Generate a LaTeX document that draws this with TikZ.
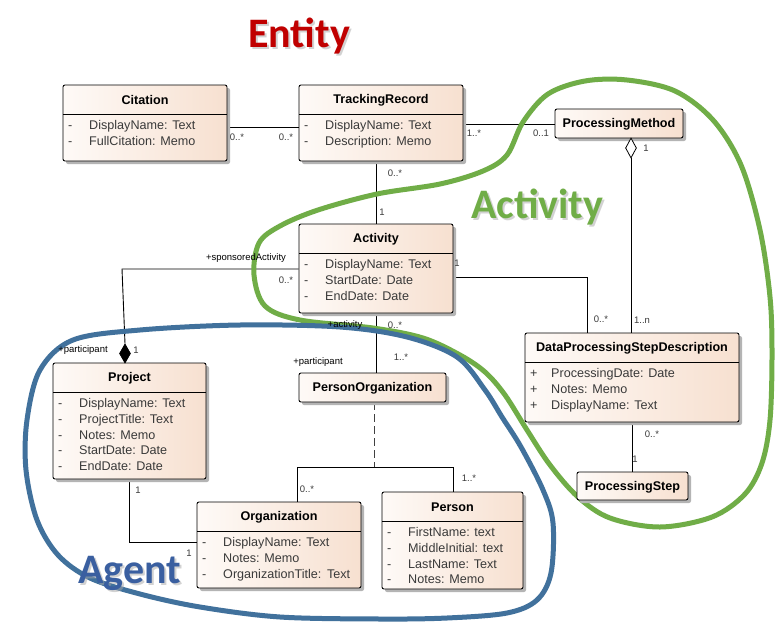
\documentclass[tikz,border=0pt]{standalone}
\usepackage{fontspec}
\setmainfont{Liberation Sans}
\newfontfamily\calib{Carlito}
\usetikzlibrary{shapes.geometric,calc}
\definecolor{peachL}{HTML}{FEFAF7}
\definecolor{peachR}{HTML}{F7E0D0}
\definecolor{shadowc}{HTML}{B4B4B4}
\definecolor{attrc}{HTML}{3A3A3A}
\definecolor{entred}{HTML}{C00000}
\definecolor{actgreen}{HTML}{70AD47}
\definecolor{agblue}{HTML}{41719C}
\definecolor{agtext}{HTML}{3A5FA0}
\pgfdeclarelayer{bglayer}
\pgfdeclarelayer{connlayer}
\pgfdeclarelayer{looplayer}
\pgfsetlayers{bglayer,connlayer,looplayer,main}
\tikzset{
 classbox/.style={draw=black, line width=0.9pt, rounded corners=2pt, left color=peachL, right color=peachR, inner sep=0pt, rectangle},
 titletext/.style={font=\bfseries\fontsize{12.6}{14}\selectfont, inner sep=0pt},
 attrtext/.style={font=\fontsize{12.6}{14}\selectfont, text=attrc, inner sep=0pt, anchor=west, text height=9pt, text depth=2.6pt},
 mult/.style={font=\fontsize{9.5}{11}\selectfont, text=attrc, inner sep=0pt},
 role/.style={font=\fontsize{9.5}{11}\selectfont, text=black, inner sep=0pt},
 conn/.style={draw=black, line width=0.9pt},
 loopg/.style={draw=actgreen, line width=5pt},
 loopb/.style={draw=agblue, line width=5pt},
 bigtext/.style={anchor=base west, inner sep=0pt, font=\calib\bfseries\fontsize{42}{42}\selectfont},
 bigshadow/.style={bigtext, text=black!35, opacity=0.5},
}
\newcommand\umlbox[6]{%
  \pgfmathsetmacro\bw{#4-#2}%
  \pgfmathsetmacro\bh{#5-#3}%
  \pgfmathsetmacro\bx{(#2+#4)/2}%
  \pgfmathsetmacro\by{(#3+#5)/2}%
  \fill[shadowc, rounded corners=2pt] (#2+3,#3+3) rectangle (#4+3,#5+3);
  \node[classbox, minimum width=\bw pt, minimum height=\bh pt] (#1) at (\bx,\by) {};
  \node[titletext] (#1-t) at (\bx,#3+15) {#6};
}
\newcommand\umlattrs[5]{%
  \pgfmathsetmacro\dy{#3+29.5}%
  \draw[line width=0.9pt] (#2,\dy) -- (#4,\dy);
  \foreach \s/\t [count=\i from 0] in {#5} {
    \node[attrtext] (#1-s\i) at (#2+5,{\dy+12+15.7*\i}) {\s};
    \node[attrtext] (#1-a\i) at (#2+26,{\dy+12+15.7*\i}) {\t};
  }
}
\begin{document}
\begin{tikzpicture}[x=1pt,y=-1pt]
\useasboundingbox (0,0) rectangle (784,637);
\begin{pgfonlayer}{bglayer}
\fill[white] (0,0) rectangle (784,637);
\end{pgfonlayer}

% ---------- classes
\umlbox{cit}{63}{85}{227}{161}{Citation}
\umlattrs{cit}{63}{85}{227}{-/DisplayName: Text, -/FullCitation: Memo}
\umlbox{tr}{299}{85}{463}{161}{TrackingRecord}
\umlattrs{tr}{299}{85}{463}{-/DisplayName: Text, -/Description: Memo}
\umlbox{pm}{555}{109}{683}{138}{ProcessingMethod}
\umlbox{act}{299}{224}{453}{313}{Activity}
\umlattrs{act}{299}{224}{453}{-/DisplayName: Text, -/StartDate: Date, -/EndDate: Date}
\umlbox{proj}{53}{363}{206}{479}{Project}
\umlattrs{proj}{53}{363}{206}{-/DisplayName: Text, -/ProjectTitle: Text, -/Notes: Memo, -/StartDate: Date, -/EndDate: Date}
\umlbox{po}{299}{373}{446}{402}{PersonOrganization}
\umlbox{org}{197}{502}{361}{588}{Organization}
\umlattrs{org}{197}{502}{361}{-/DisplayName: Text, -/Notes: Memo, -/OrganizationTitle:\ \,Text}
\umlbox{person}{382}{492}{523}{589}{Person}
\umlattrs{person}{382}{492}{523}{-/FirstName: text, -/MiddleInitial: text, -/LastName: Text, -/Notes: Memo}
\umlbox{dpsd}{525}{333}{739}{422}{DataProcessingStepDescription}
\umlattrs{dpsd}{525}{333}{739}{+/ProcessingDate: Date, +/Notes: Memo, +/DisplayName: Text}
\umlbox{ps}{577}{472}{688}{500}{ProcessingStep}

\node[diamond, draw=black, line width=0.8pt, fill=black, minimum width=11pt, minimum height=19pt, inner sep=0pt] (pdia) at (125,353.5) {};
\node[diamond, draw=black, line width=0.8pt, fill=white, minimum width=11pt, minimum height=20pt, inner sep=0pt] (pmdia) at (631,148) {};

% ---------- connectors
\begin{pgfonlayer}{connlayer}
\draw[conn] (cit.east |- 0,127) -- (tr.west |- 0,127);
\draw[conn] (tr.east |- 0,124) -- (pm.west |- 0,124);
\draw[conn] (act.north) -- (act.north |- tr.south);
\coordinate (c0) at (122,269);
\draw[conn] (act.west |- c0) -- (c0) -- (pdia.north);
\draw[conn] (pmdia.south) -- (pmdia.south |- dpsd.north);
\coordinate (c1) at (587,277);
\draw[conn] (act.east |- c1) -- (c1) -- (c1 |- dpsd.north);
\draw[conn] (act.south) -- (act.south |- po.north);
\coordinate (br) at (374,467);
\draw[conn, dash pattern=on 8pt off 4pt, draw=black!75] (br |- po.south) -- (br);
\coordinate (brl) at (297,467);
\coordinate (brr) at (453,467);
\draw[conn] (brl |- org.north) -- (brl) -- (brr) -- (brr |- person.north);
\coordinate (c2) at (129,542);
\draw[conn] (c2 |- proj.south) -- (c2) -- (org.west |- c2);
\draw[conn] (dpsd.south) -- (dpsd.south |- ps.north);
\end{pgfonlayer}

% ---------- loops
\begin{pgfonlayer}{looplayer}
\draw[loopg] plot[smooth cycle, tension=0.55] coordinates {
 (627,80) (675,91) (713,120) (741,165) (760,230) (770,297) (772,355) (770,420)
 (762,463) (745,494) (712,517) (660,527) (610,518) (578,497) (550,465) (527,430)
 (505,395) (485,372) (460,355) (423,338) (373,328) (300,320) (265,306) (254,275)
 (259,243) (280,226) (318,210) (377,194) (440,184) (483,171) (507,155) (523,122)
 (548,94) (585,81)};
\draw[loopb] plot[smooth cycle, tension=0.55] coordinates {
 (73,340) (140,330) (240,325) (340,327) (407,337) (457,357) (485,390) (502,417)
 (521,447) (543,490) (553,523) (551,573) (537,600) (507,613) (447,618) (380,619)
 (280,617) (200,607) (140,594) (90,578) (58,555) (37,520) (26,470) (27,420) (40,370)};
\end{pgfonlayer}

% ---------- labels
\node[mult] (m1) at (237,137) {0..*};
\node[mult] (m2) at (286,137) {0..*};
\node[mult] (m3) at (474,133) {1..*};
\node[mult] (m4) at (541,133) {0..1};
\node[mult] (m5) at (646,148) {1};
\node[mult] (m6) at (642,320) {1..n};
\node[mult] (m7) at (395,173) {0..*};
\node[mult] (m8) at (382,212) {1};
\node[mult] (m9) at (457,263) {1};
\node[mult] (m10) at (601,319) {0..*};
\node[role] (r1) at (246,258) {+sponsoredActivity};
\node[mult] (m11) at (286,280) {0..*};
\node[role] (r2) at (83,350) {+participant};
\node[mult] (m12) at (136,350) {1};
\node[role] (r3) at (345,325) {+activity};
\node[mult] (m13) at (395,325) {0..*};
\node[role] (r4) at (318,362) {+participant};
\node[mult] (m14) at (401,357) {1..*};
\node[mult] (m15) at (307,489) {0..*};
\node[mult] (m16) at (469,478) {1..*};
\node[mult] (m17) at (138,490) {1};
\node[mult] (m18) at (189,553) {1};
\node[mult] (m19) at (652,434) {0..*};
\node[mult] (m20) at (635,459) {1};

% ---------- big labels
\node[bigshadow] (entS) at (250,49) {Entity};
\node[bigtext, text=entred] (ent) at (248,47) {Entity};
\node[bigshadow] (actS) at (473,220) {Activity};
\node[bigtext, text=actgreen] (actL) at (471,218) {Activity};
\node[bigshadow] (agS) at (80,585) {Agent};
\node[bigtext, text=agtext] (agL) at (78,583) {Agent};
\end{tikzpicture}
\end{document}
